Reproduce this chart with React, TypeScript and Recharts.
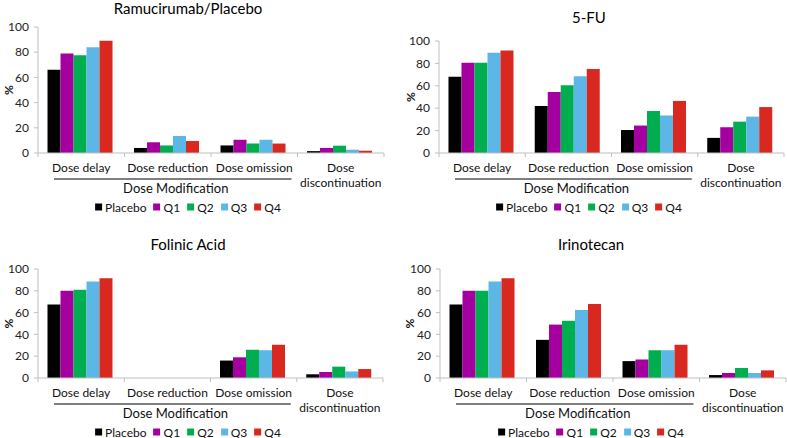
import React from 'react';
import { BarChart, Bar, XAxis, YAxis } from 'recharts';

const categories = ['Dose delay', 'Dose reduction', 'Dose omission', 'Dose discontinuation'];
const seriesNames = ['Placebo', 'Q1', 'Q2', 'Q3', 'Q4'];
const yTicks = [0, 20, 40, 60, 80, 100];

// Ramucirumab/Placebo
const ramPlacebo = [66, 4, 6, 1.5];
const ramQ1 = [79, 8.5, 10.5, 4];
const ramQ2 = [77.5, 6, 7.5, 5.8];
const ramQ3 = [84, 13.5, 10.5, 2.6];
const ramQ4 = [89, 9.5, 7.5, 1.8];

// 5-FU
const fuPlacebo = [68, 42, 20.5, 13.5];
const fuQ1 = [80.5, 54.5, 24.5, 23];
const fuQ2 = [80.5, 60.5, 37.5, 28];
const fuQ3 = [89.5, 68.5, 33.5, 32.5];
const fuQ4 = [91.5, 75, 46.5, 41];

// Folinic Acid
const faPlacebo = [67.5, 0, 16, 3.4];
const faQ1 = [80, 0, 19, 5.5];
const faQ2 = [81, 0, 26, 10.4];
const faQ3 = [88.5, 0, 25.5, 6];
const faQ4 = [91.5, 0, 30.5, 8.2];

// Irinotecan
const irPlacebo = [67.5, 35, 15.5, 2.7];
const irQ1 = [80, 49, 17, 4.6];
const irQ2 = [80, 52.5, 25.5, 9.2];
const irQ3 = [88.5, 62.5, 25.5, 4.6];
const irQ4 = [91.5, 68, 30.5, 7];

const COLORS = ['#000000', '#a4009f', '#00ae4f', '#5cb7e6', '#d8281f'];
const FONT = 'Lato, "Open Sans", sans-serif';
const AXIS_GREY = '#bfbfbf';

const buildRows = (series: number[][]) =>
  categories.map((c, i) => {
    const row: Record<string, any> = { category: c };
    seriesNames.forEach((s, k) => {
      row[s] = series[k][i];
    });
    return row;
  });

const CategoryTick = (props: any) => {
  const { x, y, payload, index, bandWidth } = props;
  const label: string = payload.value;
  const lines = label.length > 15 ? [label.slice(0, label.indexOf(' ')), label.slice(label.indexOf(' ') + 1)] : [label];
  const half = bandWidth / 2;
  return (
    <g>
      <line x1={x - half} x2={x - half} y1={y} y2={y + 4} stroke={AXIS_GREY} />
      {index === categories.length - 1 && (
        <line x1={x + half} x2={x + half} y1={y} y2={y + 4} stroke={AXIS_GREY} />
      )}
      {lines.map((ln, i) => (
        <text key={i} x={x} y={y + 19 + i * 15} textAnchor="middle" fontSize={12} fill="#111" fontFamily={FONT}>
          {ln}
        </text>
      ))}
      {index === 1 && (
        <g>
          <line x1={x - bandWidth * 1.5 + 16} x2={x + bandWidth * 1.5 - 6} y1={y + 26} y2={y + 26} stroke="#000" />
          <text x={x + 8} y={y + 40} textAnchor="middle" fontSize={13} fill="#111" fontFamily={FONT}>
            Dose Modification
          </text>
        </g>
      )}
    </g>
  );
};

const PercentLabel = (props: any) => {
  const { viewBox, labelX } = props;
  const cx = labelX;
  const cy = viewBox.y + viewBox.height / 2;
  return (
    <text
      x={cx}
      y={cy}
      transform={`rotate(-90 ${cx} ${cy})`}
      textAnchor="middle"
      dominantBaseline="central"
      fontSize={12}
      fontWeight="bold"
      fill="#111"
      fontFamily={FONT}
    >
      %
    </text>
  );
};

interface PanelProps {
  title: string;
  series: number[][];
  left: number;
  top: number;
  width: number;
  margin: { top: number; right: number; bottom: number; left: number };
  titleY: number;
  centerX: number;
  labelX: number;
}

const Y_AXIS_W = 38;
const X_AXIS_H = 30;
const CHART_H = 219;

const Panel = ({ title, series, left, top, width, margin, titleY, centerX, labelX }: PanelProps) => {
  const data = buildRows(series);
  const plotW = width - margin.left - margin.right - Y_AXIS_W;
  const bandWidth = plotW / categories.length;
  const axisY = CHART_H - margin.bottom - X_AXIS_H;
  return (
    <div style={{ position: 'absolute', left, top, width, height: CHART_H }}>
      <BarChart
        width={width}
        height={CHART_H}
        data={data}
        margin={margin}
        barGap={0}
        barCategoryGap="11%"
      >
        <XAxis
          dataKey="category"
          height={X_AXIS_H}
          axisLine={{ stroke: AXIS_GREY }}
          tickLine={false}
          tickSize={0}
          tickMargin={0}
          interval={0}
          tick={<CategoryTick bandWidth={bandWidth} />}
        />
        <YAxis
          width={Y_AXIS_W}
          domain={[0, 100]}
          ticks={yTicks}
          interval={0}
          axisLine={{ stroke: AXIS_GREY }}
          tickLine={{ stroke: AXIS_GREY }}
          tickSize={4}
          tickMargin={5}
          tick={{ fontSize: 12, fill: '#222', fontFamily: FONT }}
          label={<PercentLabel labelX={labelX} />}
        />
        {seriesNames.map((s, k) => (
          <Bar key={s} dataKey={s} fill={COLORS[k]} isAnimationActive={false} />
        ))}
      </BarChart>
      <div
        style={{
          position: 'absolute',
          left: centerX,
          top: titleY,
          transform: 'translate(-50%, -50%)',
          fontFamily: FONT,
          fontSize: 15,
          fontWeight: 400,
          color: '#000',
          whiteSpace: 'nowrap',
        }}
      >
        {title}
      </div>
      <div
        style={{
          position: 'absolute',
          left: centerX,
          top: axisY + 54,
          transform: 'translate(-50%, -50%)',
          display: 'flex',
          alignItems: 'center',
          fontFamily: FONT,
          fontSize: 12,
          color: '#111',
          whiteSpace: 'nowrap',
        }}
      >
        {seriesNames.map((s, k) => (
          <span key={s} style={{ display: 'flex', alignItems: 'center', marginRight: k < seriesNames.length - 1 ? 7 : 0 }}>
            <span style={{ display: 'inline-block', width: 7, height: 7, background: COLORS[k], marginRight: 3 }} />
            {s}
          </span>
        ))}
      </div>
    </div>
  );
};

export default function App() {
  return (
    <div style={{ position: 'absolute', left: 0, top: 0, width: 787, height: 438, background: '#fff', overflow: 'hidden' }}>
      <Panel
        title="Ramucirumab/Placebo"
        series={[ramPlacebo, ramQ1, ramQ2, ramQ3, ramQ4]}
        left={0}
        top={0}
        width={393}
        margin={{ top: 27, right: 9, bottom: 36, left: 0 }}
        titleY={8}
        centerX={188}
        labelX={8}
      />
      <Panel
        title="5-FU"
        series={[fuPlacebo, fuQ1, fuQ2, fuQ3, fuQ4]}
        left={393}
        top={0}
        width={394}
        margin={{ top: 41, right: 3, bottom: 36, left: 8 }}
        titleY={17}
        centerX={196}
        labelX={17}
      />
      <Panel
        title="Folinic Acid"
        series={[faPlacebo, faQ1, faQ2, faQ3, faQ4]}
        left={0}
        top={219}
        width={393}
        margin={{ top: 50, right: 10, bottom: 30, left: 0 }}
        titleY={25}
        centerX={188}
        labelX={8}
      />
      <Panel
        title="Irinotecan"
        series={[irPlacebo, irQ1, irQ2, irQ3, irQ4]}
        left={393}
        top={219}
        width={394}
        margin={{ top: 50, right: 1, bottom: 30, left: 9 }}
        titleY={25}
        centerX={198}
        labelX={16}
      />
    </div>
  );
}
